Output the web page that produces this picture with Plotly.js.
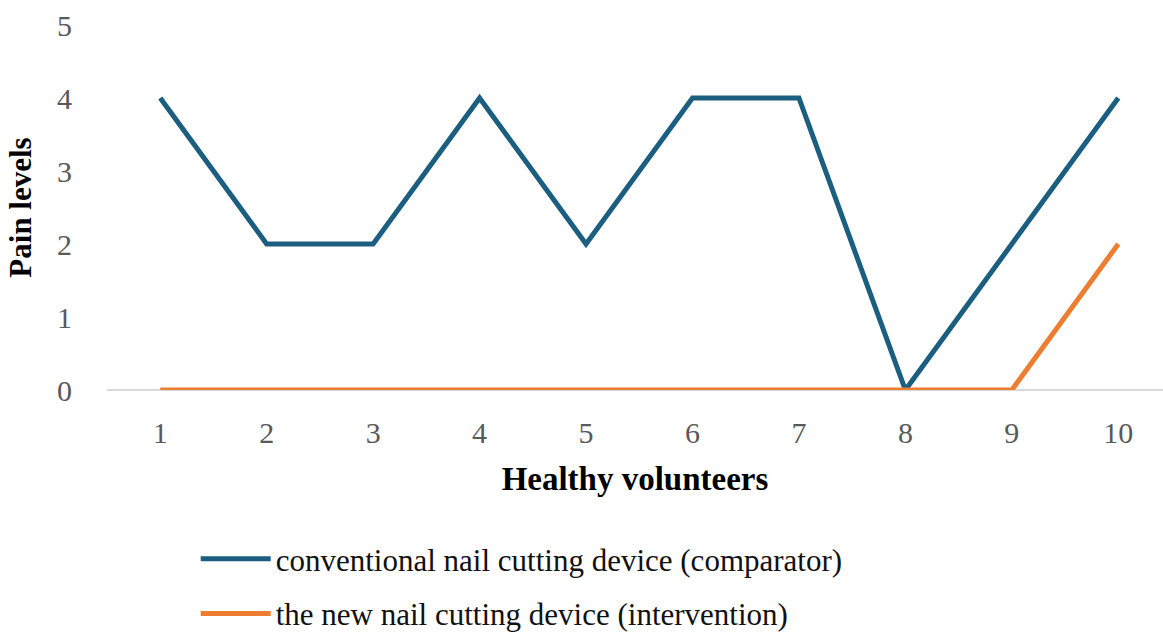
<!DOCTYPE html>
<html>
<head>
<meta charset="utf-8">
<script src="https://cdn.plot.ly/plotly-3.0.1.min.js"></script>
<style>
html,body{margin:0;padding:0;background:#fff;}
#chart{width:1163px;height:635px;}
</style>
</head>
<body>
<div id="chart"></div>
<script>
const volunteers = [1, 2, 3, 4, 5, 6, 7, 8, 9, 10];
const conventional = [4, 2, 2, 4, 2, 4, 4, 0, 2, 4];
const newDevice = [0, 0, 0, 0, 0, 0, 0, 0, 0, 2];
const seriesNames = ["conventional nail cutting device (comparator)", "the new nail cutting device (intervention)"];
const yTicks = [0, 1, 2, 3, 4, 5];

const serif = "'Liberation Serif', 'Times New Roman', serif";

const traces = [
  {x: volunteers, y: conventional, name: seriesNames[0], type: 'scatter', mode: 'lines',
   line: {color: '#1b5e80', width: 5}, legend: 'legend'},
  {x: volunteers, y: newDevice, name: seriesNames[1], type: 'scatter', mode: 'lines',
   line: {color: '#ed7d31', width: 5}, legend: 'legend2'}
];

const legendBase = {
  orientation: 'v', xanchor: 'left', yanchor: 'middle', bgcolor: 'rgba(0,0,0,0)',
  font: {family: serif, size: 31, color: '#111'}, itemwidth: 70, borderwidth: 0
};

const layout = {
  width: 1163, height: 635,
  margin: {l: 107, r: 0, t: 25, b: 245, autoexpand: false},
  paper_bgcolor: '#fff', plot_bgcolor: '#fff',
  showlegend: true,
  xaxis: {
    range: [0.5, 10.42], tickvals: volunteers, ticktext: volunteers.map(String),
    showgrid: false, zeroline: false, showline: false, ticks: '', ticklabelstandoff: 22,
    automargin: false,
    tickfont: {family: serif, size: 30, color: '#595959'},
    title: {text: '<b>Healthy volunteers</b>', font: {family: serif, size: 33, color: '#000'}, standoff: 18}
  },
  yaxis: {
    range: [0, 5], tickvals: yTicks, showgrid: false, zeroline: true, zerolinecolor: '#d9d9d9', zerolinewidth: 1.5,
    showline: false, ticks: '', ticklabelstandoff: 34, automargin: false,
    tickfont: {family: serif, size: 30, color: '#595959'},
    title: {text: '<b>Pain levels</b>', font: {family: serif, size: 31, color: '#000'}, standoff: 16}
  },
  legend: Object.assign({}, legendBase, {x: 0.084, y: -0.463}),
  legend2: Object.assign({}, legendBase, {x: 0.084, y: -0.613})
};

Plotly.newPlot('chart', traces, layout, {displayModeBar: false, staticPlot: true});
</script>
</body>
</html>
